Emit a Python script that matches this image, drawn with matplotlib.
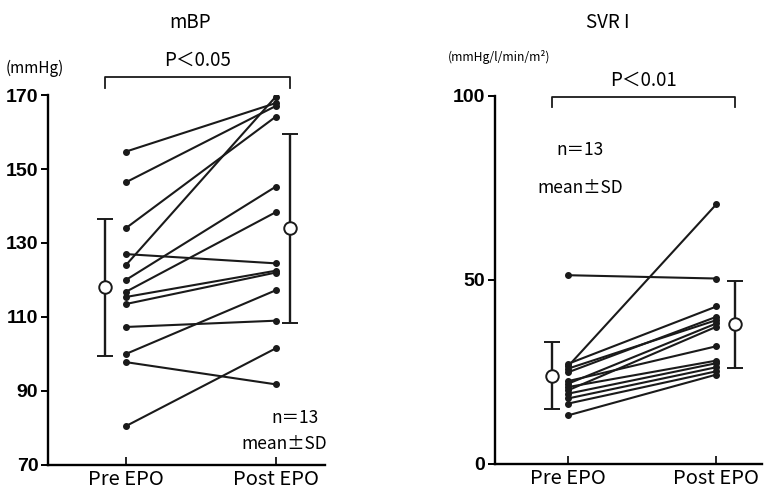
import matplotlib
matplotlib.use("Agg")
import matplotlib.pyplot as plt
from matplotlib import font_manager

# Data
groups = ["Pre EPO", "Post EPO"]

mbp_pre = [154.7, 146.4, 134.0, 127.0, 124.0, 120.0, 116.8, 115.4, 113.5, 107.3, 100.0, 97.8, 80.5]
mbp_post = [167.8, 167.0, 164.1, 124.5, 169.5, 145.2, 138.3, 122.5, 122.0, 109.0, 117.2, 91.8, 101.5]
mbp_mean = [118.0, 134.0]
mbp_sd = [18.6, 25.5]

svri_pre = [51.3, 27.2, 26.5, 25.9, 24.9, 22.5, 21.8, 20.9, 20.0, 19.1, 17.8, 16.4, 13.2]
svri_post = [50.4, 42.8, 70.6, 39.1, 40.0, 32.0, 38.2, 28.1, 37.3, 27.4, 26.3, 25.2, 24.3]
svri_mean = [24.0, 38.0]
svri_sd = [9.1, 11.8]

installed = {f.name for f in font_manager.fontManager.ttflist}
tick_font = "Liberation Sans Narrow" if "Liberation Sans Narrow" in installed else "Liberation Sans"
text_font = ["Noto Sans CJK JP", "DejaVu Sans"]

plt.rcParams["font.family"] = text_font


def draw_panel(ax, pre, post, mean, sd, mean_x, ylim, yticks, xlim):
    for a, b in zip(pre, post):
        ax.plot([0, 1], [a, b], color="#1a1a1a", lw=1.5, marker="o", ms=4,
                solid_capstyle="round")
    ax.errorbar(mean_x, mean, yerr=sd, fmt="o", ms=9, mfc="white", mec="#1a1a1a",
                mew=1.4, ecolor="#1a1a1a", elinewidth=1.7, capsize=6, capthick=1.7,
                zorder=5)
    ax.set_xlim(*xlim)
    ax.set_ylim(*ylim)
    ax.set_yticks(yticks)
    ax.set_xticks([0, 1])
    ax.set_xticklabels(groups, fontsize=14.5, family=text_font)
    for lbl in ax.get_yticklabels():
        lbl.set_family(tick_font)
        lbl.set_fontsize(14)
        lbl.set_weight("bold")
    ax.spines["top"].set_visible(False)
    ax.spines["right"].set_visible(False)
    ax.spines["left"].set_linewidth(1.7)
    ax.spines["bottom"].set_linewidth(1.7)
    ax.spines["left"].set_bounds(ylim[0], yticks[-1])
    ax.tick_params(axis="y", direction="out", length=5, width=1.4, pad=2)
    ax.tick_params(axis="x", direction="in", length=6, width=1.2, pad=3)


def bracket(ax, x0, x1, y, drop, label):
    ax.plot([x0, x0, x1, x1], [y - drop, y, y, y - drop], color="#1a1a1a", lw=1.3,
            clip_on=False)
    ax.text((x0 + x1) / 2, y + drop * 0.6, label, ha="center", va="bottom",
            fontsize=13.5, clip_on=False)


fig = plt.figure(figsize=(7.64, 4.91), dpi=100)

# mBP panel
ax1 = fig.add_axes([0.0628, 0.053, 0.3626, 0.7535])
draw_panel(ax1, mbp_pre, mbp_post, mbp_mean, mbp_sd, [-0.14, 1.093],
           (70, 170), [70, 90, 110, 130, 150, 170], (-0.52, 1.33))
bracket(ax1, -0.14, 1.093, 174.8, 3.0, "P\uff1c0.05")
ax1.text(1.13, 82.6, "n\uff1d13", ha="center", va="center", fontsize=12.5)
ax1.text(1.34, 75.8, "mean\u00b1SD", ha="right", va="center", fontsize=12.5)
fig.text(190 / 764, 1 - 22 / 491, "mBP", ha="center", va="center", fontsize=13.5)
fig.text(6 / 764, 1 - 68 / 491, "(mmHg)", ha="left", va="center", fontsize=11)

# SVRI panel
ax2 = fig.add_axes([0.648, 0.055, 0.350, 0.7495])
draw_panel(ax2, svri_pre, svri_post, svri_mean, svri_sd, [-0.107, 1.126],
           (0, 100), [0, 50, 100], (-0.49, 1.31))
bracket(ax2, -0.107, 1.126, 99.7, 2.8, "P\uff1c0.01")
ax2.text(0.08, 85.2, "n\uff1d13", ha="center", va="center", fontsize=12.5)
ax2.text(0.08, 75.0, "mean\u00b1SD", ha="center", va="center", fontsize=12.5)
fig.text(608 / 764, 1 - 22 / 491, "SVR I", ha="center", va="center", fontsize=13.5)
fig.text(448 / 764, 1 - 57 / 491, "(mmHg/l/min/m\u00b2)", ha="left", va="center",
         fontsize=8.8)

fig.savefig("out.png", dpi=100)
